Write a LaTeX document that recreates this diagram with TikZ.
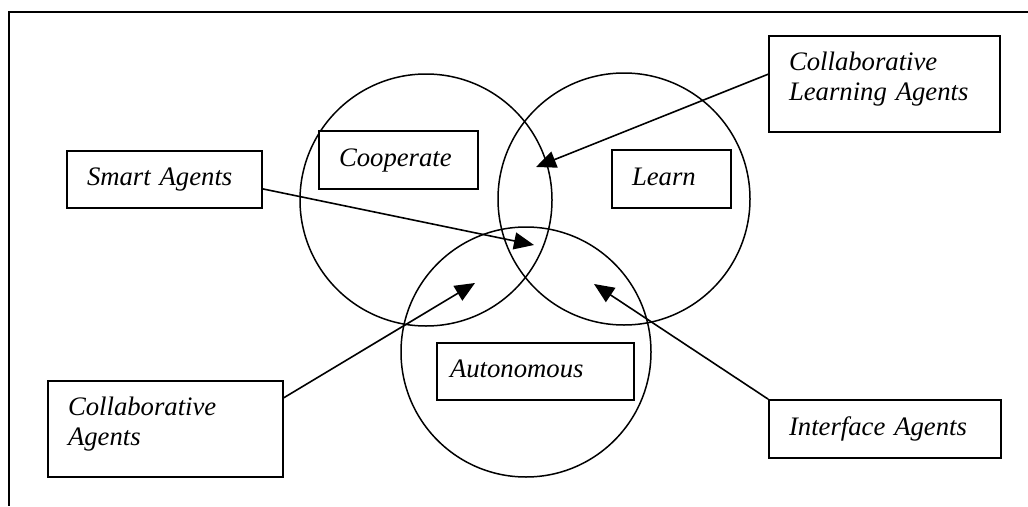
\documentclass[tikz,border=0pt]{standalone}
\usepackage{fontspec}
\setmainfont{Liberation Serif}
\usetikzlibrary{arrows.meta,calc}
\begin{document}
\begin{tikzpicture}[x=1pt,y=-1pt,
  ring/.style={draw,circle,line width=1.5pt,inner sep=0pt,minimum size=#1},
  box/.style={draw,fill=white,line width=1.8pt,rectangle,inner xsep=20pt,inner ysep=0pt,
    align=left,font=\fontsize{26.7}{30}\selectfont\itshape},
  pointer/.style={line width=1.6pt,-{Triangle[length=20pt,width=17pt]}}]
  \useasboundingbox (0,0) rectangle (1028,506);
  % open frame: top and left edges only
  \draw[line width=2pt] (1028,12) -- (9,12) -- (9,506);
  % the three overlapping sets
  \node[ring=252pt] (cc) at (426,200) {};
  \node[ring=252pt] (lc) at (624,199) {};
  \node[ring=250pt] (ac) at (526,352) {};
  % set labels
  \node[box,minimum width=159pt,minimum height=58pt,text width=119pt] (coop) at (398.5,160) {\strut Cooperate};
  \node[box,minimum width=119pt,minimum height=58pt,text width=79pt] (learn) at (671.5,179) {\strut Learn};
  \node[box,inner xsep=13pt,minimum width=197pt,minimum height=57pt,text width=171pt] (auto) at (535.5,371.5) {\strut Autonomous};
  % agent types
  \node[box,minimum width=195pt,minimum height=57pt,text width=155pt] (sa) at (164.5,179.5) {\strut Smart Agents};
  \node[box,minimum width=231pt,minimum height=96pt,text width=191pt,text depth=44.6pt] (cla) at (884.5,84) {Collaborative\\Learning Agents};
  \node[box,minimum width=235pt,minimum height=96pt,text width=195pt,text depth=44.6pt] (ca) at (165.5,429) {Collaborative\\Agents};
  \node[box,minimum width=232pt,minimum height=58pt,text width=192pt] (ia) at (885,429) {\strut Interface Agents};
  % arrow targets inside the overlaps
  \coordinate (t1) at (534,245);
  \coordinate (t2) at (536,167);
  \coordinate (t3) at (475,283);
  \coordinate (t4) at (594,284);
  % pointers
  \draw[pointer] ($(sa.north east)!0.66!(sa.south east)$) -- (t1);
  \draw[pointer] ($(cla.north west)!0.4!(cla.south west)$) -- (t2);
  \draw[pointer] ($(ca.north east)!0.18!(ca.south east)$) -- (t3);
  \draw[pointer] (ia.north west) -- (t4);
\end{tikzpicture}
\end{document}
